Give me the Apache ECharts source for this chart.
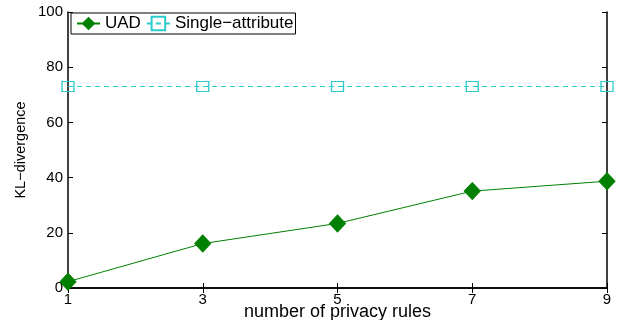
<!DOCTYPE html>
<html>
<head>
<meta charset="utf-8">
<script src="https://cdn.jsdelivr.net/npm/echarts@6/dist/echarts.min.js"></script>
<style>
  html, body { margin: 0; padding: 0; background: #fff; }
  #chart { width: 623px; height: 320px; }
</style>
</head>
<body>
<div id="chart"></div>
<script>
// Number of privacy rules on the x axis
const ruleCounts = ['1', '3', '5', '7', '9'];
// KL-divergence per method
const uadValues = [2.3, 16.1, 23.4, 35.1, 38.7];
const singleAttrValues = [73, 73, 73, 73, 73];
// Y axis range
const yMin = 0, yMax = 100, yStep = 20;

const font = '"Liberation Sans", Arial, sans-serif';
const green = '#008000';
const cyan = '#2ccaca';

const chart = echarts.init(document.getElementById('chart'), null, { renderer: 'canvas' });

const hiddenLabels = { show: false };
const insideTick = { show: true, inside: true, length: 5, lineStyle: { color: '#000', width: 1 } };

chart.setOption({
  animation: false,
  grid: { left: 68, right: 16, top: 12, bottom: 32, containLabel: false, outerBoundsMode: 'none' },
  legend: {
    left: 71, top: 13,
    orient: 'horizontal',
    itemWidth: 23, itemHeight: 17, itemGap: 5,
    padding: [2, 2, 2, 5],
    borderColor: '#000', borderWidth: 1,
    backgroundColor: '#fff',
    textStyle: { fontFamily: font, fontSize: 17, color: '#000' },
    data: ['UAD', 'Single\u2212attribute']
  },
  xAxis: [
    {
      type: 'category', data: ruleCounts, boundaryGap: false, position: 'bottom',
      name: 'number of privacy rules', nameLocation: 'middle', nameGap: 15,
      nameMoveOverlap: false,
      nameTextStyle: { fontFamily: font, fontSize: 18, color: '#000' },
      axisLine: { lineStyle: { color: '#000', width: 1.5 } },
      axisTick: insideTick,
      axisLabel: { fontFamily: font, fontSize: 15, color: '#000', margin: 4 },
      splitLine: { show: false }
    },
    {
      type: 'category', data: ruleCounts, boundaryGap: false, position: 'top',
      axisLine: { lineStyle: { color: '#000', width: 1.5 } },
      axisTick: insideTick, axisLabel: hiddenLabels, splitLine: { show: false }
    }
  ],
  yAxis: [
    {
      type: 'value', min: yMin, max: yMax, interval: yStep, position: 'left',
      name: 'KL\u2212divergence', nameLocation: 'middle', nameGap: 40,
      nameMoveOverlap: false,
      nameTextStyle: { fontFamily: font, fontSize: 14.5, color: '#000' },
      axisLine: { show: true, lineStyle: { color: '#000', width: 1.5 } },
      axisTick: insideTick,
      axisLabel: { fontFamily: font, fontSize: 15, color: '#000', margin: 5 },
      splitLine: { show: false }
    },
    {
      type: 'value', min: yMin, max: yMax, interval: yStep, position: 'right',
      axisLine: { show: true, lineStyle: { color: '#000', width: 1.5 } },
      axisTick: insideTick, axisLabel: hiddenLabels, splitLine: { show: false }
    }
  ],
  series: [
    {
      name: 'UAD', type: 'line', data: uadValues,
      symbol: 'diamond', symbolSize: [16, 17],
      itemStyle: { color: green, borderColor: green },
      lineStyle: { color: green, width: 1 },
      z: 3
    },
    {
      name: 'Single\u2212attribute', type: 'line', data: singleAttrValues,
      symbol: 'rect', symbolSize: [12, 10],
      itemStyle: { color: 'rgba(255,255,255,0)', borderColor: cyan, borderWidth: 1.2 },
      lineStyle: { color: cyan, width: 1.2, type: [5, 4] },
      z: 2
    }
  ]
});
</script>
</body>
</html>
